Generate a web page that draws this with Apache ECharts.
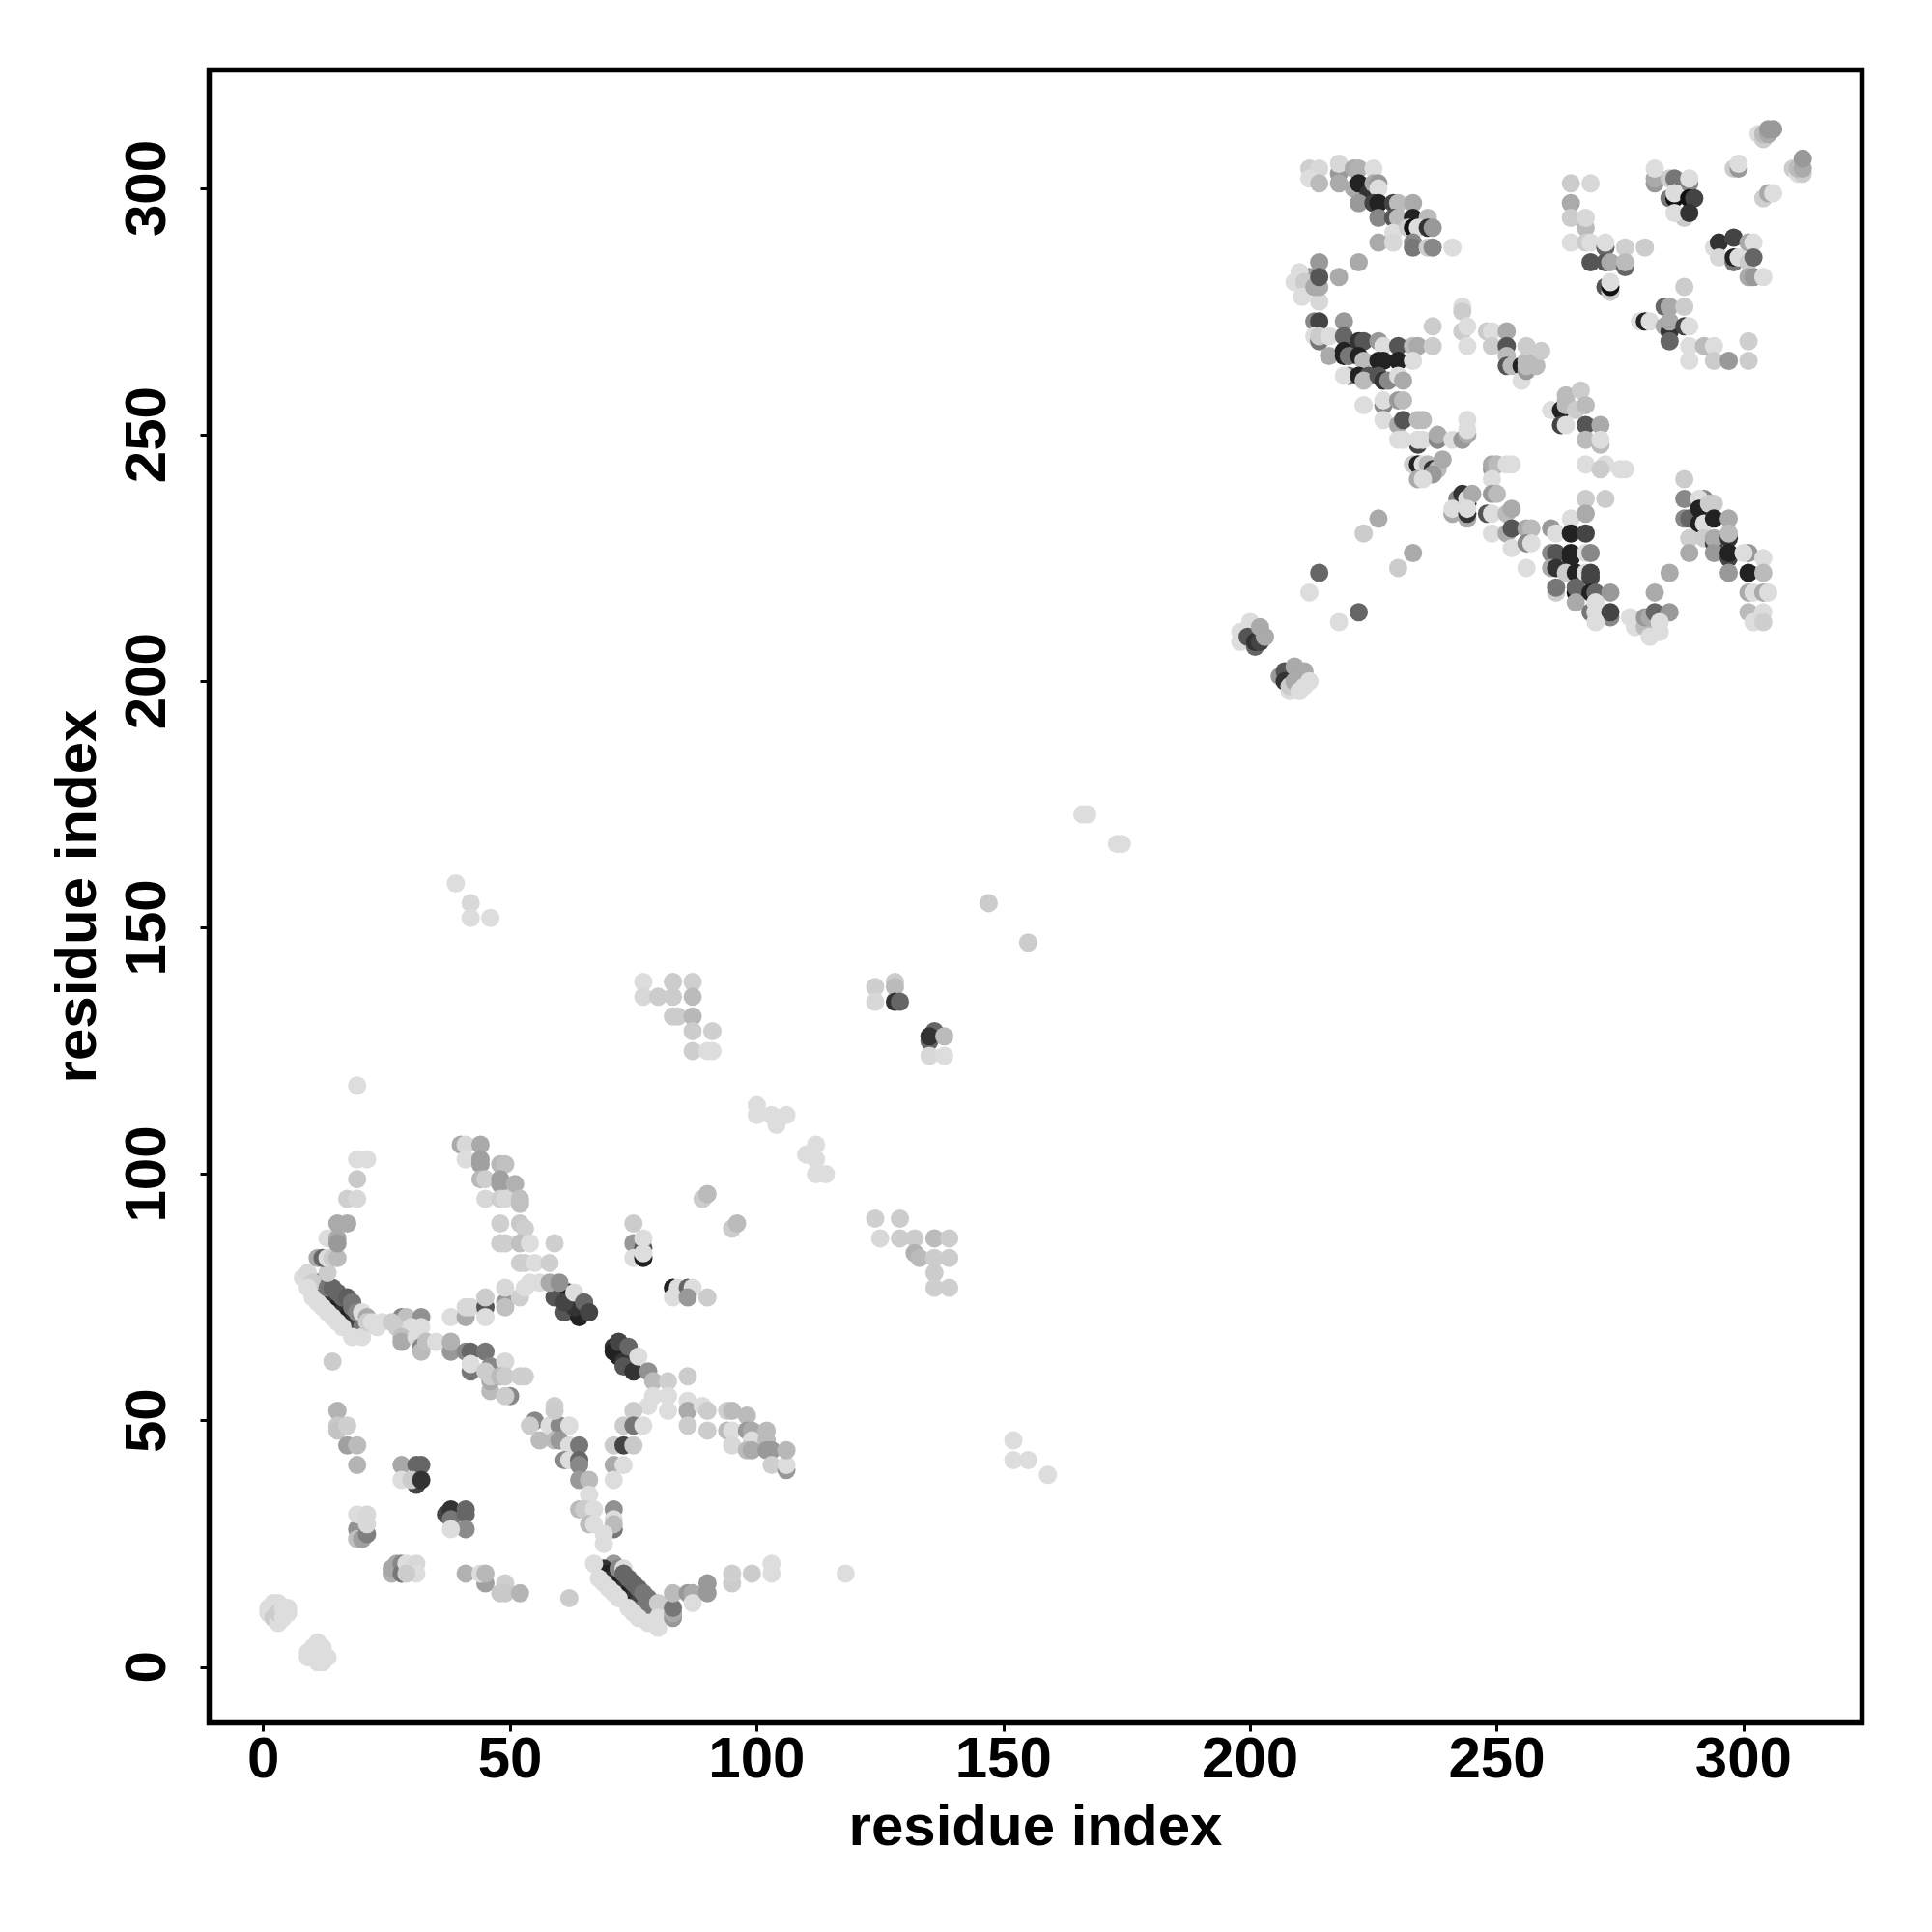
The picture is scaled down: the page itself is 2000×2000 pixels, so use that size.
<!DOCTYPE html>
<html><head><meta charset="utf-8">
<style>html,body{margin:0;padding:0;background:#fff}#c{width:2000px;height:2000px}</style>
<script src="https://cdn.jsdelivr.net/npm/echarts@6/dist/echarts.min.js"></script>
</head><body><div id="c"></div>
<script>
// Each contact: [residue i, residue j, shade] (shade 0 = black ... 13 = light grey)
const tickLabels = [0, 50, 100, 150, 200, 250, 300];
const axisName = 'residue index';
const termini = [[1,12,13],[1,11,13],[2,13,13],[2,10,12],[3,13,13],[3,9,13],[3,11,12],[4,12,13],[4,10,13],[5,11,13],[5,12,13],
[9,3,13],[9,2,13],[10,4,13],[10,2,13],[11,5,13],[11,3,12],[11,1,13],[12,4,13],[12,2,13],[13,2,13],[12,1,13],[10,3,13]];
const lowerIslands = [[14,62,12],[15,52,10.5],[15,49,11.8],[15,48,11.5],[17,49,12.2],[17,45,9.4],[19,45,11],[19,41,10.6],
[28,41,9.9],[31,41,6],[32,41,6],[28,38,13],[31,37,4],[30,38,12],[32,38,3],
[37,31,4],[38,32,3],[38,30,7],[41,32,6],[41,31,6],[41,28,8.2],[38,28,13],
[19,28,8.5],[19,26,11.3],[20,26,9.4],[21,27,7.5],[19,31,13],[21,31,12.7],[21,29,12.7],
[26,19,10.4],[26,20,9.9],[27,21,9.9],[28,21,8],[28,19,7],[29,21,13],[31,21,12.7],[31,19,13],[29,19,12],
[41,19,10.4],[45,17,9.4],[44,19,13],[45,19,10.8],[49,17,12.2],[48,15,11.8],[49,15,11.8],[52,15,10.6],[62,14,12],
[118,19,13],[152,46,13],[152,42,13],[155,42,13],[159,39,13],[19,118,13],[39,159,13],[42,155,12.7],[42,152,13],[46,152,13]];
const firstHelix = [[9,79,11],[10,77,8],[11,78,8],[11,77,7],[12,77,3],[12,76,2],[13,75,2],[14,74,3],[15,73,2],[16,72,3],[17,71,2],[18,70,3],[19,69,4],[20,69,7],
[8,79,13],[9,80,12.7],[10,78,12],[9,77,13],[10,75,13],[11,74,13],[12,73,13],[13,72,13],[14,71,13],[15,70,13],[16,69,13],[18,67,13],[20,67,13],
[13,77,7],[14,77,6],[15,76,6],[16,75,6],[17,75,5.5],[18,74,7],[18,73,7],[19,72,8],[20,72,13],[21,71,10],[21,70,12],[22,70,13],[23,69,13],[24,70,13],
[13,80,12],[11,83,10],[12,83,6],[13,83,13],[14,83,12],[15,83,11],[13,87,13],[15,87,10],[15,86,9],[15,90,10],[17,90,10],[17,95,12.2],[19,95,12.7],[19,99,11.8],[19,103,13],[21,103,13]];
const crossBand = [[28,71,8],[29,71,11.3],[32,71,8.5],[26,70,12],[27,69,12],[30,69,13],[32,69,13],[28,67,11.3],[28,66,10],[31,67,13],[32,65,8],[32,64,11],[33,66,11.3],[35,66,13],
[38,71,13],[38,64,9],[38,66,10.4],[41,64,8],[42,64,6],[45,64,7],[42,60,7],[42,61.5,13],[46,61,8],[45,60,12],[49,62,12.7],[46,56,11],[46,58,10],[46,59,12],[48,59,11],[49,59,12],[50,55,8],[49,55,12],[53,59,12.2],[52,59,12.2],
[41,71,10],[41,73,12.7],[42,73,12.7],[45,73,5],[45,75,12],[45,71,13],[49,74,9],[49,73,11.3],[49,77,12.7],[52,75,12.2],[53,77,13],[54,78,13]];
const lowerStrand = [[40,106,10],[41,106,12.7],[44,106,10],[41,103,13],[44,103,9.4],[44,102,9.4],[48,102,10.8],[49,102,11.3],[44,99,10.8],[45,99,12.2],[48,99,9.4],[48,98,9.4],[51,98,10.4],[45,95,12.7],[48,95,12.2],[49,95,12.7],[52,94,11.3],[52,95,11.3],
[48,90,12.2],[52,90,11.8],[53,89,12.2],[48,86,12.2],[49,86,12.2],[52,86,11.3],[54,86,13],[59,86,12.2],[52,82,12.2],[53,82,12.2],[55,82,13],[58,82,12.2],[56,78,13],
[59,75,5],[61,72,5],[64,71,2],[62,76,2],[63,73,3],[58,78,10],[60,78,8.5],[61,74,4],[63,76,13],[65,74,6],[66,72,4]];
const secondHelix = [[71,65,3],[71,64,2],[72,63,2],[73,62,3],[73,61,5],[75,60,3],[72,66,4],[74,65,6],[76,63,13],[78,60,8.5],[79,58,11],[82,58,12.2],[86,59,12],
[79,55,13],[82,55,13],[82,52,13],[78,53,13],[75,52,12],[73,49,12],[75,49,7],[77,49,13],[71,45,12],[73,45,4],[75,45,11.8],[71,41,10],[73,41,13],[71,38,13],
[75,90,12],[75,86,9],[77,85,5],[75,83,13],[77,87,13],[77,83,2],[77,84,13],[83,77,2],[84,77,13],[86,77,6],[87,77,13],[83,75,13],[86,75,9],[90,75,12],[89,95,12],[90,96,11],[95,89,12],[96,90,11],
[86,54,13],[86,52,10],[86,49,12],[89,53,13],[90,52,12],[90,48,12],[94,52,12.2],[95,52,11],[94,48,11],[95,48,13],[95,45,12.7],[98,51,11],[98,48,9],[99,48,10],[99,46,13],[98,44,11],[99,44,10],[102,48,11],[102,46,11],[102,44,9],[103,44,9],[103,41,12.2],[106,40,9],[106,41,13],[106,44,10.8]];
const midIslands = [[55,50,8],[54,49,12],[56,46,11],[58,49,13],[60,49,8],[62,49,13],[59,53,12.2],[59,52,12],[59,46,11],[60,46,9],[62,45,13],[61,42,8],[62,42,13],[64,45,7],[64,42,6],[64,41,8],
[64,38,9],[66,38,11],[66,35,13],[64,32,11],[65,32,12],[67,32,13],[66,29,11],[67,29,13],[71,32,8.5],[71,30,13],[71,28,7],[71,29,11],[69,27,13],[69,25,13]];
const secondArc = [[71,21,9],[69,20,3],[70,19,2],[71,18,3],[72,17,2],[73,16,3],[74,15,2],[75,14,3],[76,13,4],[77,12,7],
[67,21,13],[68,18,13],[69,17,13],[70,16,13],[71,15,13],[72,14,13],[74,12,13],[75,11,13],[76,10,13],[78,9,13],[80,8,13],
[72,20,8],[73,20,13],[73,19,6],[74,18,6],[75,17,6],[76,16,6],[77,15,7],[78,14,7],[80,13,12],[80,10,13],[83,10,9],[83,11,10],[83,12,7],[83,15,11],[86,15,9],[87,15,10],[87,13,13],[90,15,9],[90,17,9],[95,17,12],[95,19,12.2],[99,19,12],[103,19,13],[103,21,13]];
const middleBlocks = [[77,139,13],[77,136,12.7],[80,136,12],[83,139,12],[87,139,12.2],[83,136,12],[87,136,11],[83,132,12],[84,132,12],[87,132,10.8],[87,129,12],[91,129,12.2],[87,125,12.2],[90,125,13],[91,125,13],
[100,114,13],[100,112,13],[103,112,13],[106,112,13],[104,110,13],[110,104,13],[112,106,13],[112,103,13],[112,100,13],[114,100,13],
[124,91,12.2],[125,87,12.7],[129,91,12],[129,87,12],[132,87,12],[132,84,10.4],[133,83,11],[136,87,11],[136,83,12],[139,87,12],[139,83,12],[136,80,12],[136,77,12.2],[139,77,12.2],
[124,138,12.2],[124,135,12.7],[128,139,12],[128,138,11],[128,135,3],[129,135,6],[135,127,6],[136,129,6],[135,128,3],[138,128,11],[135,124,12.7],[138,124,13],
[147,155,12],[155,147,12],[166,173,13],[167,173,13],[173,167,13],[174,167,13]];
const diagonalPatch = [[198,210,13],[198,208,13],[200,212,13],[199.5,209,5],[201,207,6],[201,208,3],[202,208,4],[202,211,10],[203,209,10],
[206,201,9],[207,202,5],[207,200,3],[208,198,13],[208,199,12],[209,203,10],[209,200,10],[210,198,13],[211,199,13],[211,202,10],[212,200,13],
[214,222,6],[212,218,13],[218,212,13],[222,214,6],[226,233,10],[223,230,12],[233,226,10],[230,223,12]];
const upperTop = [[212,304,12.2],[214,304,12.7],[218,303,9],[218,305,12.7],[212,302,13],[214,301,11],[218,301,10],[221,304,10],[222,304,10.4],[225,304,13],
[221,300,10],[222,301,2],[224,299,3],[225,301,10],[226,301,9],[226,300,13],
[222,297,9],[225,297,4],[226,297,2],[229,297,4],[230,297,11],[233,297,10],[226,294,8],[229,294,5],[230,294,11],[233,294,2],[236,294,11],
[229,291,13],[232,292,12],[233,292,1],[234,292,13],[236,292,3],[237,292,9],[226,289,10],[229,289,12.7],[233,289,8],[233,288,7],[236,288,12],[237,288,8],[241,288,13]];
const upperLeft = [[222,285,10],[214,285,9],[218,282,10],[212,282,9],[210,283,13],[209,281,13],[211,281,12],[210.5,278,13],[214,277,12.7],[213,280,10],[214,280,10],[214,282,5],
[213,273,8],[214,273,4],[219,273,9],[213,270,13],[214,269,7],[214,270,12],[216,270,13],[219,270,6],[216,266,10],[219,267,2],[219,266,2],[220,266,7],[220,262,7],[219,262,13],
[222,269,3],[223,269,5],[222,266,2],[223,265,11],[222,262,2],[224,262,5],[223,261,11],[226,269,9],[227,268,13],[226,265,2],[227,265,2],[226,262,5],[227,261,3],[228,261,8],
[230,268,5],[230,265,2],[230,262,13],[231,261,10],[233,268,11],[234,268,10],[237,268,12],[237,272,12],[233,265,13]];
const upperMiddle = [[243,276,13],[243,275,12],[243,271,12],[244,272,13],[244,268,13],[248,271,12],[249,271,13],[252,271,10],[249,268,12],[252,268,5],[252,266,11],[252,264,5],[253,264,11],[255,264,2],[255,261,13],[256,263,9],[256,264,11],[256,265,11],[256,268,12],[258,264,11],[259,267,12],
[223,256,13],[227,256,8],[227,257,13],[230,257,9],[231,257,11],[227,253,13],[230,252,10],[231,253,5],[234,253,11],[235,253,11],[234,248,4],[230,249,13],[231,249,13],[234,249,13],[235,249,13],[238,249,8],[238,250,10],[241,249,13],[243,249,9],[244,250,10],[244,251,13],[244,253,13],
[233,244,12],[234,244,2],[235,244,13],[236,244,11],[237,243,3],[238,243,11],[237,242,9],[239,245,10],[234,241,10],[235,241,13]];
const upperDiagonal = [[249,243,9],[249,244,10],[250,244,11],[252,244,13],[253,244,13],[249,241,13],[242,237,8],[243,238,3],[244,236,2],[244,237,13],[245,238,10],[241,234,10],[241,235,13],[244,233,10],[244,234,3],[244,235,13],
[249,238,9],[250,238,11],[248,234,5],[249,234,13],[249,230,13],[252,234,11],[253,235,10],[252,230,10],[253,231,5],[253,227,13],[256,231,10],[257,231,11],[256,228,8],[257,228,13],[256,223,13],
[268,244,13],[272,244,13],[271,243,12],[275,243,13],[276,243,13],[268,237,12],[272,237,12],[261,255,13],[264,258,11],[264,257,11],[267,259,12],[263,255,2],[264,256,11],[266,255,12],[268,256,11],[263,252,4],[264,252,13],[268,252,5],[271,252,10],[268,249,11],[271,248,11],[271,249,13]];
const upperKnot = [[261,231,9],[262,230,13],[265,233,13],[268,234,10],[265,230,2],[268,230,4],[261,226,8],[262,226,5],[265,226,2],[265,225,2],[268,226,13],[269,226,8],[261,223,10],[262,223,3],[264,222,12],[266,222,2],[268,222,13],[269,222,4],[269,221,4],
[262,218,12],[262,219,7],[266,218,1],[266,219,6],[269,218,2],[270,218,6],[273,218,9],[266,216,10],[269,214,7],[270,216,13],[270,214,13],[273,213,8],[273,214,4],[270,212,13],
[277,213,13],[278,212,13],[278,211,13],[280,211,11],[280,213,9],[281,213,10],[281,209,13],[282,214,6],[282,218,10],[285,214,9],[285,222,10],[283,212,13],[283,210,13]];
const upperRightLow = [[288,241,12],[288,237,8],[288,233,8],[289,233,6],[292,237,8],[291,237,13],[291,235,2],[293,236,12],[294,236,12],[291,232,2],[292,232,13],[294,233,2],[297,233,10],[289,229,12.2],[292,229,12],[289,226,10],[294,228,4],[294,229,10],[294,226,9],[297,229,3],[297,230,11],[297,225,4],[297,226,2],[297,222,9],
[301,226,9],[300,226,13],[301,222,2],[304,225,13],[304,222,11],[301,218,10],[302,218,13],[304,218,10],[305,218,13],[301,214,11],[304,214,13],[302,212,13],[304,212,12.2]];
const upperRightHigh = [[265,301,12],[269,301,12.7],[265,297,10],[265,294,12],[268,292,11],[268,294,12.7],[265,289,13],[268,289,12],[269,289,13],[272,288,6],[272,289,13],[276,288,12.2],[280,288,12],[269,285,5],[272,285,5],[273,285,10],[276,284,6],[276,285,11],[272,280,5],[273,279,12],[273,280,1],[273,281,13],
[282,301,9],[282,302,10],[282,304,13],[285,302,12],[286,302,7],[289,301,8],[289,302,13],[285,298,7],[286,298,1],[286,299,13],[289,298,1],[290,298,4],[288,294,12],[286,295,13],[289,295,3],
[294,288,13],[295,289,3],[298,290,4],[295,286,12.7],[298,285,7],[298,286,2],[299,286,13],[301,289,10],[302,289,13],[301,285,12],[302,286,6],[301,282,10],[302,282,9],[304,282,13],
[298,304,12],[299,304,9],[299,305,13],[304,298,12.2],[305,299,10],[306,299,13],
[303,311,13],[304,310,12],[304,311,11],[305,311,10],[305,312,9],[306,312,9],[310,304,12],[311,303,13],[312,303,12],[311,304,11],[312,304,10],[312,306,9],
[279,273,13],[280,273,2],[281,273,13],[284,276,6],[285,276,10],[288,280,12],[288,276,12],[284,272,10],[285,271,3],[285,273,10],[288,272,4],[289,272,13],[285,269,6],[289,268,13],[289,265,13],[292,268,11],[294,268,13],[294,265,12],[297,265,9],[301,269,12.2],[301,265,12]];

const points = [].concat(termini, lowerIslands, firstHelix, crossBand, lowerStrand, secondHelix, midIslands, secondArc, middleBlocks, diagonalPatch, upperTop, upperLeft, upperMiddle, upperDiagonal, upperKnot, upperRightLow, upperRightHigh);

const font = {fontFamily: '"Liberation Sans"', fontWeight: 'bold', fontSize: 60, color: '#000'};
const chart = echarts.init(document.getElementById('c'), null, {renderer: 'canvas'});
chart.setOption({
  animation: false,
  backgroundColor: '#fff',
  grid: {left: 216.5, top: 72.5, width: 1711, height: 1711, show: true, borderColor: '#000', borderWidth: 5.5, backgroundColor: 'transparent', containLabel: false},
  xAxis: {type: 'value', min: -11, max: 324, splitLine: {show: false},
    axisLine: {show: false, onZero: false},
    axisTick: {show: true, length: 9, inside: false, customValues: tickLabels, lineStyle: {color: '#000', width: 3}},
    axisLabel: Object.assign({customValues: tickLabels, margin: 10, showMinLabel: true, showMaxLabel: true}, font),
    name: axisName, nameLocation: 'middle', nameGap: 80, nameTextStyle: font},
  yAxis: {type: 'value', min: -11.3, max: 324, splitLine: {show: false},
    axisLine: {show: false, onZero: false},
    axisTick: {show: true, length: 9, customValues: tickLabels, lineStyle: {color: '#000', width: 3}},
    axisLabel: Object.assign({customValues: tickLabels, margin: 32, rotate: 90, showMinLabel: true, showMaxLabel: true}, font),
    name: axisName, nameLocation: 'middle', nameGap: 104, nameTextStyle: font},
  visualMap: {show: false, type: 'continuous', dimension: 2, min: 0, max: 13, inRange: {color: ['#000000', '#dddddd']}},
  series: [{type: 'scatter', data: points, symbol: 'circle', symbolSize: 19, silent: true, progressive: 0, large: false, itemStyle: {opacity: 1}}]
});
</script></body></html>
